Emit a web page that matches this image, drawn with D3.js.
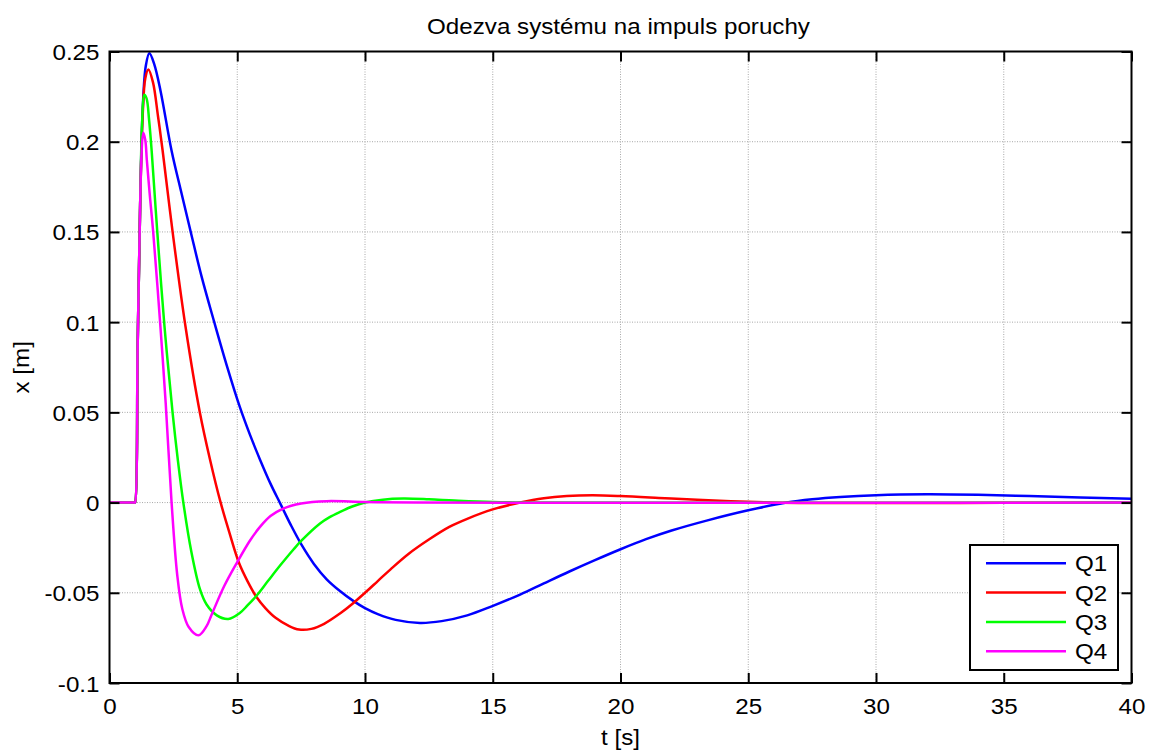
<!DOCTYPE html>
<html>
<head>
<meta charset="utf-8">
<script src="https://cdn.jsdelivr.net/npm/d3@7"></script>
<style>
  body { margin: 0; background: #fff; }
  svg { display: block; font-family: "Liberation Sans", Arial, sans-serif; }
</style>
</head>
<body>
<div id="chart"></div>
<script>
const WIDTH = 1154;
const HEIGHT = 751;
const MARGIN = {top: 51.5, right: 22.5, bottom: 68, left: 109.5};
const FONT = 22.5;
const STRETCH = "scale(1.075,1)";

const TITLE = "Odezva systému na impuls poruchy";
const XLABEL = "t [s]";
const YLABEL = "x [m]";
const X_TICKS = [0, 5, 10, 15, 20, 25, 30, 35, 40];
const Y_TICKS = [-0.1, -0.05, 0, 0.05, 0.1, 0.15, 0.2, 0.25];
const Y_TICK_LABELS = ["-0.1", "-0.05", "0", "0.05", "0.1", "0.15", "0.2", "0.25"];
const NAMES = ["Q1", "Q2", "Q3", "Q4"];
const COLORS = ["#0000ff", "#ff0000", "#00ff00", "#ff00ff"];

// [t, x]
const Q1 = [[0,0],[0.5,0],[0.98,0],[1,0],[1.1,0.085],[1.2,0.165],[1.3,0.218],[1.42,0.242],[1.56,0.249],
  [1.75,0.243],[2.0,0.228],[2.43,0.195],[2.8,0.1725],[3.18,0.150],[3.6,0.1255],[4.1,0.100],[4.6,0.0755],
  [5.1,0.053],[5.5,0.0375],[5.9,0.0235],[6.3,0.0105],[6.7,-0.001],[7.1,-0.0125],[7.52,-0.0235],
  [8.0,-0.034],[8.5,-0.0425],[9.02,-0.049],[9.54,-0.0545],[10.0,-0.0585],[10.5,-0.0618],[11.2,-0.065],
  [12.15,-0.0667],[13.0,-0.0657],[14.0,-0.0625],[14.96,-0.0575],[16.07,-0.051],[17,-0.0448],
  [18,-0.0382],[19,-0.0319],[19.98,-0.026],[21,-0.0203],[22,-0.0155],[23.37,-0.010],[25,-0.0043],
  [26.5,0],[27.5,0.0018],[28.6,0.0031],[30,0.0041],[32,0.0046],[34,0.0043],[36,0.0036],[38,0.0028],
  [40,0.0021]];
const Q2 = [[0,0],[0.5,0],[0.98,0],[1,0],[1.1,0.085],[1.2,0.165],[1.3,0.215],[1.4,0.235],[1.52,0.240],
  [1.7,0.233],[1.9,0.214],[2.08,0.195],[2.47,0.15],[2.97,0.098],[3.54,0.0497],[3.94,0.0235],[4.34,0.0005],
  [4.69,-0.0165],[5.07,-0.0335],[5.4,-0.0435],[5.76,-0.0525],[6.1,-0.0585],[6.5,-0.0639],[7.0,-0.0682],
  [7.42,-0.0704],[7.9,-0.0700],[8.4,-0.0672],[9.02,-0.0615],[9.5,-0.0562],[10.0,-0.050],[10.5,-0.0435],
  [11,-0.037],[11.7,-0.0285],[12.5,-0.0205],[13.3,-0.0135],[14,-0.009],[15,-0.0038],[16.07,0],
  [17,0.0024],[17.9,0.0036],[18.9,0.0040],[20,0.0036],[21.5,0.0026],[23,0.0015],[25,0.0004],
  [27,-0.0002],[30,-0.0003],[35,-0.0001],[40,0]];
const Q3 = [[0,0],[0.5,0],[0.98,0],[1,0],[1.1,0.085],[1.2,0.165],[1.28,0.212],[1.36,0.226],[1.45,0.224],
  [1.55,0.212],[1.65,0.195],[1.87,0.15],[2.15,0.098],[2.47,0.0497],[2.68,0.023],[2.89,0],[3.2,-0.027],
  [3.54,-0.048],[3.8,-0.0565],[4.2,-0.0625],[4.65,-0.0645],[5.1,-0.0612],[5.4,-0.057],[5.76,-0.0515],
  [6.2,-0.0435],[6.7,-0.0345],[7.2,-0.026],[7.52,-0.021],[8.24,-0.0116],[8.6,-0.0082],[9.02,-0.0052],
  [9.5,-0.0022],[10,0],[10.7,0.0016],[11.5,0.0022],[12.5,0.0018],[13.5,0.0011],[15,0.0003],[17,0],
  [40,0]];
const Q4 = [[0,0],[0.5,0],[0.98,0],[1,0],[1.1,0.085],[1.2,0.165],[1.25,0.192],[1.32,0.205],[1.4,0.201],
  [1.46,0.19],[1.58,0.17],[1.71,0.15],[1.98,0.100],[2.2,0.055],[2.43,0],[2.65,-0.04],[2.85,-0.059],
  [3.1,-0.069],[3.48,-0.0736],[3.8,-0.0685],[4.0,-0.062],[4.5,-0.046],[4.98,-0.0335],[5.5,-0.021],
  [5.89,-0.0135],[6.3,-0.0075],[6.8,-0.0033],[7.5,-0.0005],[8.5,0.0008],[10,0.0003],[12,0],[40,0]];
const SERIES = [Q1, Q2, Q3, Q4];

const w = WIDTH - MARGIN.left - MARGIN.right;
const h = HEIGHT - MARGIN.top - MARGIN.bottom;

const svg = d3.select("#chart").append("svg")
  .attr("width", WIDTH)
  .attr("height", HEIGHT);

const g = svg.append("g")
  .attr("transform", "translate(" + MARGIN.left + "," + MARGIN.top + ")");

const x = d3.scaleLinear().domain([0, 40]).range([0, w]);
const y = d3.scaleLinear().domain([-0.1, 0.25]).range([h, 0]);

// grid
g.append("g").selectAll("line")
  .data(X_TICKS.slice(1, -1))
  .enter().append("line")
  .attr("x1", d => x(d)).attr("x2", d => x(d))
  .attr("y1", 0).attr("y2", h)
  .attr("stroke", "#a8a8a8").attr("stroke-dasharray", "1,1.5");
g.append("g").selectAll("line")
  .data(Y_TICKS.slice(1, -1))
  .enter().append("line")
  .attr("y1", d => y(d)).attr("y2", d => y(d))
  .attr("x1", 0).attr("x2", w)
  .attr("stroke", "#a8a8a8").attr("stroke-dasharray", "1,1.5");

// curves
const line = d3.line()
  .x(d => x(d[0]))
  .y(d => y(d[1]))
  .curve(d3.curveCatmullRom.alpha(0.5));

SERIES.forEach((s, i) => {
  g.append("path")
    .datum(s)
    .attr("fill", "none")
    .attr("stroke", COLORS[i])
    .attr("stroke-width", 2.5)
    .attr("stroke-linejoin", "round")
    .attr("d", line);
});

// axes, ticks pointing inwards
const fmtY = d => Y_TICK_LABELS[Y_TICKS.indexOf(d)];

const xAxis = g.append("g")
  .attr("transform", "translate(0," + h + ")")
  .call(d3.axisBottom(x).tickValues(X_TICKS).tickSize(-10).tickFormat(d3.format("d")));
const yAxis = g.append("g")
  .call(d3.axisLeft(y).tickValues(Y_TICKS).tickSize(-10).tickFormat(fmtY));
g.append("g")
  .call(d3.axisTop(x).tickValues(X_TICKS).tickSize(-10).tickFormat(""));
g.append("g")
  .attr("transform", "translate(" + w + ",0)")
  .call(d3.axisRight(y).tickValues(Y_TICKS).tickSize(-10).tickFormat(""));

g.selectAll(".domain").remove();
g.selectAll(".tick line").attr("stroke", "#000").attr("stroke-width", 2);

xAxis.selectAll("text")
  .attr("x", 0).attr("y", 0).attr("dy", null)
  .attr("transform", "translate(0,31) " + STRETCH)
  .attr("font-size", FONT).attr("fill", "#000");
yAxis.selectAll("text")
  .attr("x", 0).attr("y", 0).attr("dy", null)
  .attr("transform", "translate(-10,8) " + STRETCH)
  .attr("font-size", FONT).attr("fill", "#000");

// frame
g.append("rect")
  .attr("width", w).attr("height", h)
  .attr("fill", "none").attr("stroke", "#000").attr("stroke-width", 2);

// titles
svg.append("text")
  .attr("transform", "translate(" + (MARGIN.left + w / 2 - 2) + ",34) " + STRETCH)
  .attr("text-anchor", "middle").attr("font-size", FONT)
  .text(TITLE);
svg.append("text")
  .attr("transform", "translate(" + (MARGIN.left + w / 2) + ",745) " + STRETCH)
  .attr("text-anchor", "middle").attr("font-size", FONT)
  .text(XLABEL);
svg.append("text")
  .attr("transform", "translate(29," + (MARGIN.top + h / 2) + ") rotate(-90) " + STRETCH)
  .attr("text-anchor", "middle").attr("font-size", FONT)
  .text(YLABEL);

// legend
const legend = svg.append("g").attr("transform", "translate(970,545)");
legend.append("rect")
  .attr("width", 148).attr("height", 125)
  .attr("fill", "#fff").attr("stroke", "#000").attr("stroke-width", 2);
const rows = legend.selectAll(".row")
  .data(NAMES)
  .enter().append("g")
  .attr("class", "row")
  .attr("transform", (d, i) => "translate(0," + (18.3 + i * 29.3) + ")");
rows.append("line")
  .attr("x1", 16).attr("x2", 96)
  .attr("stroke", (d, i) => COLORS[i]).attr("stroke-width", 2.5);
rows.append("text")
  .attr("transform", "translate(105,8) " + STRETCH)
  .attr("font-size", FONT)
  .text(d => d);
</script>
</body>
</html>
